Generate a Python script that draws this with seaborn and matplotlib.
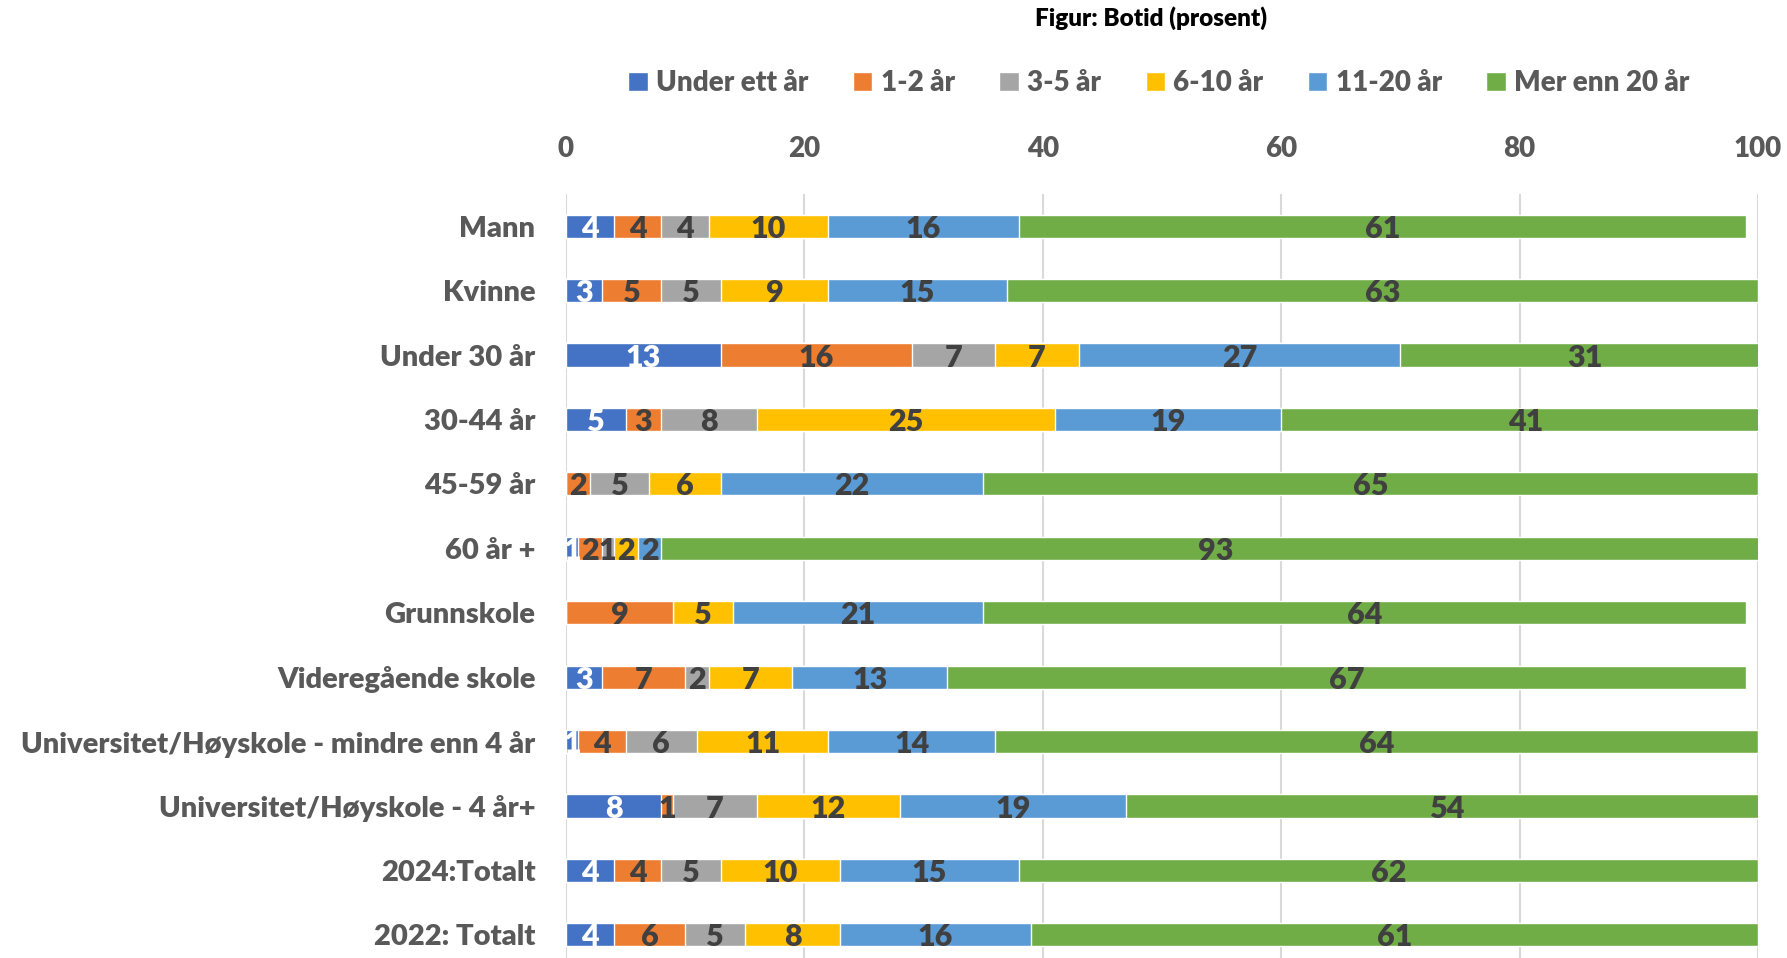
import numpy as np
import pandas as pd
import matplotlib
matplotlib.use('Agg')
import matplotlib.pyplot as plt
import seaborn as sns

categories = ['Mann', 'Kvinne', 'Under 30 år', '30-44 år', '45-59 år', '60 år +',
              'Grunnskole', 'Videregående skole',
              'Universitet/Høyskole - mindre enn 4 år',
              'Universitet/Høyskole - 4 år+', '2024:Totalt', '2022: Totalt']
series = ['Under ett år', '1-2 år', '3-5 år', '6-10 år', '11-20 år', 'Mer enn 20 år']
under_1 = [4, 3, 13, 5, 0, 1, 0, 3, 1, 8, 4, 4]
aar_1_2 = [4, 5, 16, 3, 2, 2, 9, 7, 4, 1, 4, 6]
aar_3_5 = [4, 5, 7, 8, 5, 1, 0, 2, 6, 7, 5, 5]
aar_6_10 = [10, 9, 7, 25, 6, 2, 5, 7, 11, 12, 10, 8]
aar_11_20 = [16, 15, 27, 19, 22, 2, 21, 13, 14, 19, 15, 16]
over_20 = [61, 63, 31, 41, 65, 93, 64, 67, 64, 54, 62, 61]
colors = ['#4472C4', '#ED7D31', '#A5A5A5', '#FFC000', '#5B9BD5', '#70AD47']
xticks = [0, 20, 40, 60, 80, 100]

df = pd.DataFrame(dict(zip(series, [under_1, aar_1_2, aar_3_5, aar_6_10, aar_11_20, over_20])),
                  index=categories)
cum = df.cumsum(axis=1)
starts = cum - df

sns.set_theme(style='white')
plt.rcParams['font.family'] = ['Lato', 'DejaVu Sans']
plt.rcParams['font.weight'] = 'bold'

fig = plt.figure(figsize=(17.87, 9.58), dpi=100)
ax = fig.add_axes([566 / 1787, -0.0094, (1758 - 566) / 1787, 0.7975 + 0.0094])

# stacked: draw cumulative totals from the last series to the first
for s, c in reversed(list(zip(series, colors))):
    sns.barplot(x=cum[s].values, y=categories, orient='h', color=c,
                width=0.36, ax=ax, saturation=1, label=s, zorder=3)

for j, s in enumerate(series):
    for i, cat in enumerate(categories):
        v = df.loc[cat, s]
        if v <= 0:
            continue
        ax.text(starts.loc[cat, s] + v / 2, i + 0.04, str(v), ha='center', va='center',
                fontsize=22, fontweight='heavy', zorder=5,
                color='white' if j == 0 else '#404040')

ax.set_xlim(0, 100)
ax.set_ylim(11.5, -0.5)
ax.set_xticks(xticks)
ax.xaxis.tick_top()
ax.grid(axis='x', color='#D9D9D9', linewidth=1.5, zorder=0)
ax.set_axisbelow(True)
for sp in ax.spines.values():
    sp.set_visible(False)
ax.tick_params(axis='x', length=0, pad=23, labelsize=20, labelcolor='#595959')
ax.tick_params(axis='y', length=0, pad=22, labelsize=21, labelcolor='#595959')
for lab in ax.get_xticklabels() + ax.get_yticklabels():
    lab.set_fontweight('heavy')
ax.set_xlabel('')
ax.set_ylabel('')

handles, labels = ax.get_legend_handles_labels()
order = [labels.index(s) for s in series]
fig.legend([handles[k] for k in order], series, loc='center', ncol=6,
           bbox_to_anchor=(1159 / 1787, 1 - 83 / 958), frameon=False,
           prop={'size': 20, 'weight': 'heavy'}, labelcolor='#595959',
           handlelength=0.7, handleheight=0.7, handletextpad=0.3, columnspacing=1.6)
if ax.get_legend() is not None:
    ax.get_legend().remove()

fig.text(1151 / 1787, 1 - 18 / 958, 'Figur: Botid (prosent)', ha='center', va='center',
         fontsize=17.5, fontweight='heavy', color='black')

fig.savefig('out.png', dpi=100)
